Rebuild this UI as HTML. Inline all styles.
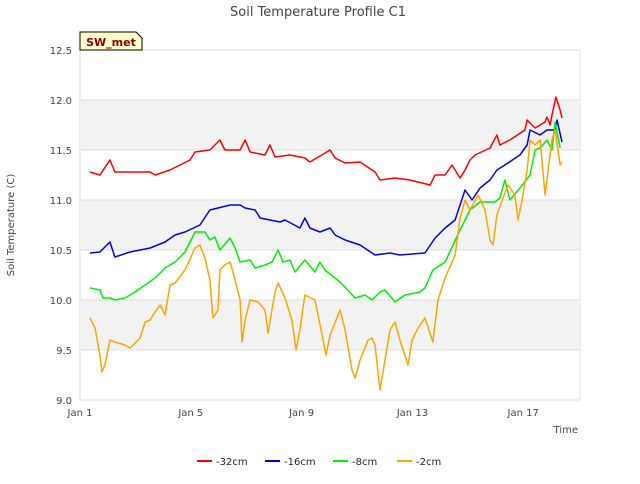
<!DOCTYPE html>
<html><head><meta charset="utf-8"><style>
body{margin:0;background:#fff;font-family:"DejaVu Sans","Liberation Sans",sans-serif}
svg text{font-family:"DejaVu Sans","Liberation Sans",sans-serif}
</style></head><body>
<svg id="c" width="640" height="480" xmlns="http://www.w3.org/2000/svg">
<text x="318" y="16" text-anchor="middle" font-size="13" fill="#444">Soil Temperature Profile C1</text>
<rect x="80" y="50" width="500" height="350" fill="#fff" stroke="#ddd"/>
<g id="bands"></g><g id="axes"></g><g id="series"></g>
<text x="14" y="225" transform="rotate(-90 14 225)" text-anchor="middle" font-size="10" fill="#444">Soil Temperature (C)</text>
<text x="578" y="433" text-anchor="end" font-size="10" fill="#444">Time</text>
<g><path d="M80,50 L80,32 L136,32 L142,38 L142,50 Z" fill="#ffffc8" stroke="#000" stroke-width="1"/>
<text x="111" y="46" text-anchor="middle" font-size="11" font-weight="bold" fill="#8b0000">SW_met</text></g>
<g id="legend"></g>
</svg>
<script>
const yTicks=[9.0,9.5,10.0,10.5,11.0,11.5,12.0,12.5];
const xTickDays=[1,5,9,13,17];
const xTickLabels=["Jan 1","Jan 5","Jan 9","Jan 13","Jan 17"];
const seriesNames=["-32cm","-16cm","-8cm","-2cm"];
const seriesColors=["#ff0000","#0000ee","#00ee00","#ffa500"];
const redDays=[1.36,1.72,2.08,2.26,3.53,3.71,4.25,4.61,4.97,5.15,5.69,6.05,6.23,6.78,6.96,7.14,7.68,7.86,8.04,8.58,9.12,9.30,10.03,10.21,10.57,11.11,11.65,11.83,12.37,12.91,13.64,13.82,14.18,14.43,14.72,14.90,15.08,15.26,15.80,16.05,16.16,16.52,17.06,17.14,17.43,17.79,17.86,17.97,18.04,18.18,18.33,18.40];
const redVals=[11.28,11.25,11.40,11.28,11.28,11.25,11.30,11.35,11.40,11.48,11.50,11.60,11.50,11.50,11.60,11.48,11.45,11.55,11.43,11.45,11.42,11.38,11.50,11.42,11.37,11.38,11.28,11.20,11.22,11.20,11.15,11.25,11.25,11.35,11.22,11.30,11.40,11.45,11.52,11.65,11.55,11.60,11.70,11.80,11.72,11.78,11.83,11.75,11.85,12.03,11.90,11.82];
const blueDays=[1.36,1.72,2.08,2.26,2.81,3.53,4.07,4.43,4.79,5.33,5.69,6.42,6.78,6.96,7.32,7.50,7.86,8.22,8.40,8.94,9.12,9.30,9.66,10.03,10.21,10.57,11.11,11.65,12.19,12.55,13.45,13.82,14.18,14.54,14.90,15.15,15.44,15.80,16.05,16.34,16.88,17.14,17.25,17.61,17.86,18.15,18.22,18.40];
const blueVals=[10.47,10.48,10.58,10.43,10.48,10.52,10.58,10.65,10.68,10.75,10.90,10.95,10.95,10.92,10.90,10.82,10.80,10.78,10.80,10.72,10.82,10.72,10.68,10.72,10.65,10.60,10.55,10.45,10.47,10.45,10.47,10.62,10.72,10.80,11.10,11.00,11.12,11.20,11.30,11.35,11.45,11.55,11.70,11.65,11.70,11.70,11.80,11.58];
const greenDays=[1.36,1.72,1.83,2.08,2.26,2.62,2.99,3.35,3.71,4.07,4.43,4.79,5.15,5.51,5.69,5.87,6.05,6.42,6.60,6.78,7.14,7.32,7.68,7.93,8.15,8.33,8.58,8.76,9.12,9.48,9.66,9.84,10.39,10.93,11.29,11.54,11.83,12.01,12.37,12.73,13.27,13.45,13.74,14.18,14.72,15.08,15.44,15.98,16.16,16.34,16.52,16.88,17.25,17.43,17.61,17.86,18.04,18.15,18.33];
const greenVals=[10.12,10.10,10.02,10.02,10.00,10.02,10.08,10.15,10.22,10.32,10.38,10.48,10.68,10.68,10.60,10.63,10.50,10.62,10.52,10.38,10.40,10.32,10.35,10.38,10.50,10.38,10.40,10.28,10.40,10.28,10.38,10.30,10.18,10.02,10.05,10.00,10.08,10.10,9.98,10.05,10.08,10.12,10.30,10.38,10.70,10.90,10.98,10.98,11.02,11.20,11.00,11.12,11.25,11.50,11.52,11.60,11.50,11.78,11.52];
const orangeDays=[1.36,1.54,1.72,1.79,1.90,2.08,2.26,2.62,2.81,3.17,3.35,3.53,3.71,3.89,4.07,4.25,4.43,4.79,5.15,5.33,5.51,5.69,5.80,5.98,6.05,6.23,6.42,6.60,6.78,6.85,6.96,7.14,7.43,7.68,7.79,8.04,8.15,8.40,8.65,8.80,8.94,9.12,9.48,9.74,9.88,10.03,10.39,10.57,10.82,10.93,11.11,11.40,11.54,11.65,11.83,11.94,12.19,12.37,12.55,12.84,12.99,13.20,13.45,13.74,13.92,14.18,14.54,14.72,14.90,15.08,15.37,15.62,15.80,15.91,16.05,16.27,16.45,16.70,16.81,16.96,17.14,17.25,17.43,17.61,17.79,17.90,18.04,18.15,18.33,18.40];
const orangeVals=[9.82,9.72,9.45,9.28,9.35,9.60,9.58,9.55,9.52,9.62,9.78,9.80,9.88,9.95,9.85,10.15,10.17,10.30,10.52,10.55,10.42,10.20,9.82,9.90,10.30,10.35,10.38,10.20,10.00,9.58,9.80,10.00,9.98,9.90,9.67,10.08,10.17,10.02,9.80,9.50,9.70,10.05,10.00,9.65,9.45,9.65,9.90,9.70,9.30,9.22,9.40,9.60,9.62,9.55,9.10,9.28,9.70,9.78,9.60,9.35,9.60,9.72,9.82,9.58,10.00,10.22,10.45,10.82,11.00,10.90,11.05,10.90,10.60,10.55,10.85,11.02,11.15,11.05,10.80,11.00,11.30,11.60,11.55,11.60,11.05,11.30,11.60,11.70,11.35,11.38];
const NS="http://www.w3.org/2000/svg";
const X0=80,X1=580,Y0=400,Y1=50,DMIN=1,DMAX=19.05,VMIN=9,VMAX=12.5;
const xs=d=>X0+(d-DMIN)/(DMAX-DMIN)*(X1-X0);
const ys=v=>Y0-(v-VMIN)/(VMAX-VMIN)*(Y0-Y1);
function mk(tag,at,parent){const e=document.createElementNS(NS,tag);for(const k in at)e.setAttribute(k,at[k]);parent.appendChild(e);return e;}
const bands=document.getElementById('bands'),axes=document.getElementById('axes'),ser=document.getElementById('series'),leg=document.getElementById('legend');
for(let i=0;i<yTicks.length-1;i++){
  if(i%2===1){const r=mk('rect',{x:X0,y:ys(yTicks[i+1]),width:X1-X0,height:ys(yTicks[i])-ys(yTicks[i+1]),fill:'#f2f2f2'},bands);
  
  }
}
yTicks.forEach(v=>{
  const l=mk('line',{x1:X0,x2:X1,y1:ys(v),y2:ys(v),stroke:'#ddd'},axes);
  
  
  const t=mk('text',{x:72,y:ys(v)+4,'text-anchor':'end','font-size':'10',fill:'#444'},axes);t.textContent=v.toFixed(1);
  
  
});
xTickDays.forEach((d,i)=>{
  const t=mk('text',{x:xs(d),y:416,'text-anchor':'middle','font-size':'10',fill:'#444'},axes);t.textContent=xTickLabels[i];
  
  
});
const allDays=[redDays,blueDays,greenDays,orangeDays],allVals=[redVals,blueVals,greenVals,orangeVals];
allDays.forEach((days,s)=>{
  const pts=days.map((d,i)=>xs(d).toFixed(1)+','+ys(allVals[s][i]).toFixed(1)).join(' ');
  const p=mk('polyline',{points:pts,fill:'none',stroke:seriesColors[s],'stroke-width':'1.5','stroke-linejoin':'round'},ser);
  
  
});
const legX=[197,265,333,397];
seriesNames.forEach((n,i)=>{
  const g=mk('g',{},leg);
  
  
  mk('line',{x1:legX[i],x2:legX[i]+15,y1:461,y2:461,stroke:seriesColors[i],'stroke-width':'2'},g);
  const t=mk('text',{x:legX[i]+19,y:465,'font-size':'10',fill:'#222'},g);t.textContent=n;
});
</script>
</body></html>
